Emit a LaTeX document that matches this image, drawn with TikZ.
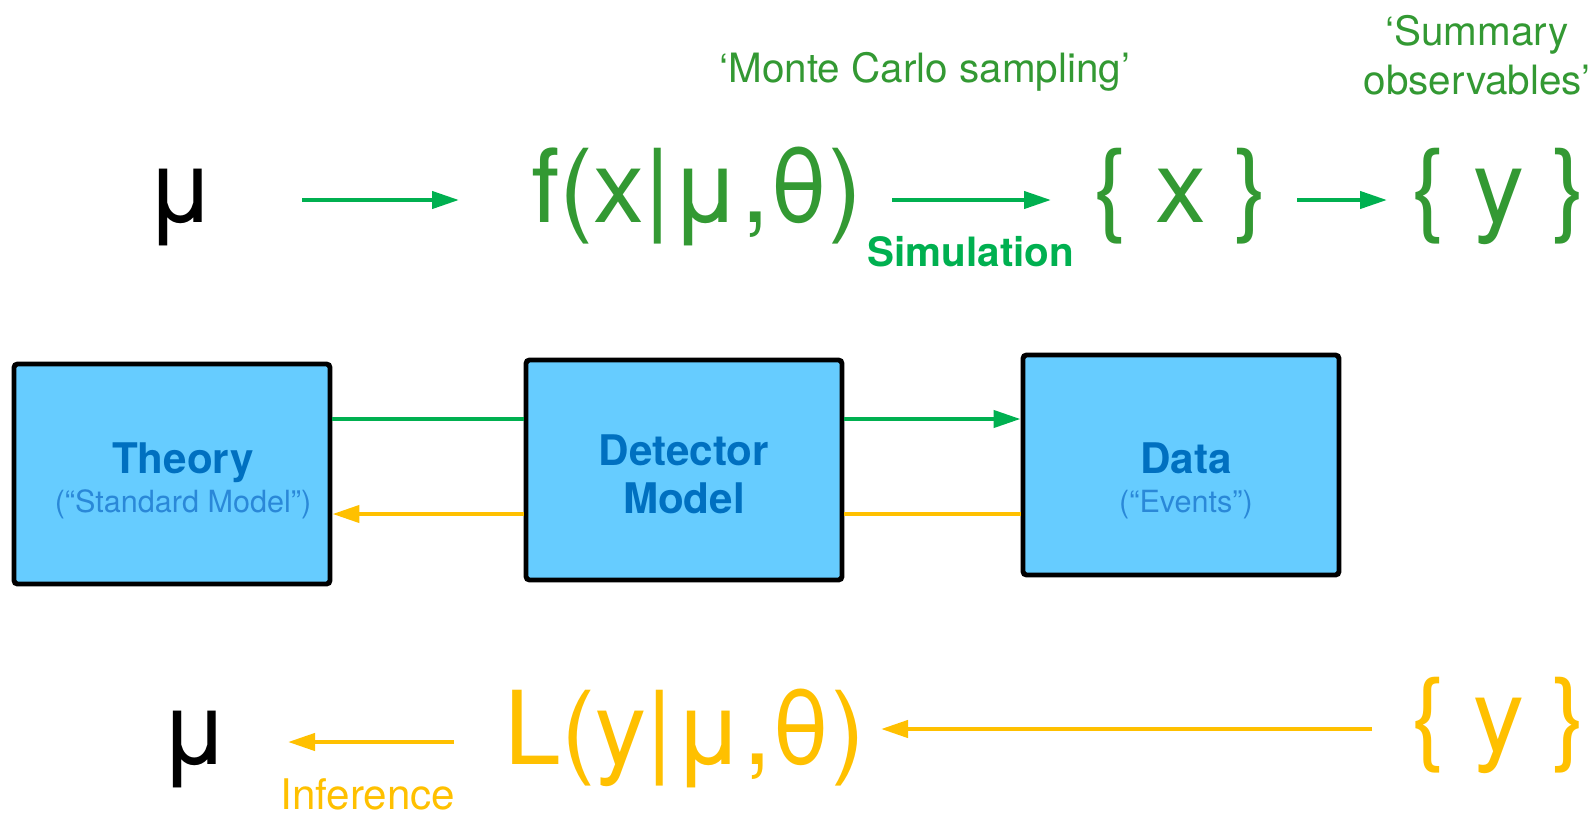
\documentclass[tikz,border=0pt]{standalone}
\usepackage{fontspec}
\setmainfont{TeX Gyre Heros}
\usetikzlibrary{arrows.meta, positioning}
\definecolor{simgreen}{HTML}{00B050}
\definecolor{textgreen}{HTML}{339933}
\definecolor{infyellow}{HTML}{FFC000}
\definecolor{boxblue}{HTML}{66CCFF}
\definecolor{titleblue}{HTML}{0070C0}
\definecolor{subblue}{HTML}{2A88D8}
\newcommand{\subline}[1]{{\fontsize{8.7}{10}\selectfont\mdseries\color{subblue}#1}}

\begin{document}
\begin{tikzpicture}[
		big/.style={font=\fontsize{29}{35}\selectfont, text height=1.29em, text depth=0em, inner sep=0pt},
		note/.style={font=\fontsize{11.5}{13.9}\selectfont, align=center, inner sep=0pt},
		block/.style={draw=black, line width=1.4pt, fill=boxblue, rounded corners=1pt, minimum width=3.16cm, minimum height=2.2cm, align=center, font=\fontsize{12}{12.2}\selectfont\bfseries, text=titleblue},
		fwd/.style={simgreen, line width=1.2pt},
		bwd/.style={infyellow, line width=1.2pt},
		tip/.style={-{Triangle[length=0.27cm, width=0.17cm]}}
	]
		\useasboundingbox (0, 0) rectangle (15.93, 8.13);
		\node[big] (mutop) at (1.81, 6.13) {μ};
		\node[big, textgreen] (fx) at (6.97, 6.13) {f(x|μ,θ)};
		\node[big, textgreen] (xset) at (11.81, 6.13) {\{ x \}};
		\node[big, textgreen] (ysettop) at (14.99, 6.13) {\{ y \}};
		\node[note, textgreen] (mc) at (9.25, 7.41) {‘Monte Carlo sampling’};
		\node[note, textgreen] (summary) at (14.77, 7.58) {‘Summary\\observables’};
		\node[note, simgreen, font=\fontsize{11.5}{13.9}\selectfont\bfseries] (sim) at (9.71, 5.61) {Simulation};
		\draw[fwd, tip, shorten <=1.21cm, shorten >=2.38cm] (mutop.center) -- (fx.center);
		\draw[fwd, tip, shorten <=1.95cm, shorten >=1.30cm] (fx.center) -- (xset.center);
		\draw[fwd, tip, shorten <=1.16cm, shorten >=1.12cm] (xset.center) -- (ysettop.center);

		\node[block, text height=1.0cm, text depth=0.24cm] (theory) at (1.72, 3.39) {\hspace*{0.22cm}Theory\\[-1.2pt]\hspace*{0.22cm}\subline{(“Standard Model”)}};
		\node[block, text height=1.0cm, text depth=0.14cm] (detector) at (6.84, 3.43) {Detector\\[1.4pt]Model};
		\node[block, text height=1.1cm, text depth=0.16cm] (data) at (11.81, 3.48) {\hspace*{0.1cm}Data\\[-1.2pt]\hspace*{0.1cm}\subline{(“Events”)}};
		\coordinate (gline) at (0, 3.94);
		\coordinate (yline) at (0, 2.99);
		\draw[fwd] (theory.east |- gline) -- (detector.west |- gline);
		\draw[fwd, tip] (detector.east |- gline) -- (data.west |- gline);
		\draw[bwd, tip] (detector.west |- yline) -- (theory.east |- yline);
		\draw[bwd] (data.west |- yline) -- (detector.east |- yline);

		\node[big] (mubot) at (1.95, 0.71) {μ};
		\node[big, infyellow] (lfun) at (6.85, 0.71) {L(y|μ,θ)};
		\node[big, infyellow] (ysetbot) at (14.99, 0.84) {\{ y \}};
		\node[note, infyellow, font=\fontsize{12}{14}\selectfont] (inf) at (3.68, 0.19) {Inference};
		\draw[bwd, tip, shorten <=2.31cm, shorten >=0.93cm] (lfun.center) -- (mubot.center);
		\draw[bwd, tip, shorten <=1.27cm, shorten >=1.96cm] (ysetbot.center) -- (lfun |- ysetbot);
	\end{tikzpicture}
\end{document}
